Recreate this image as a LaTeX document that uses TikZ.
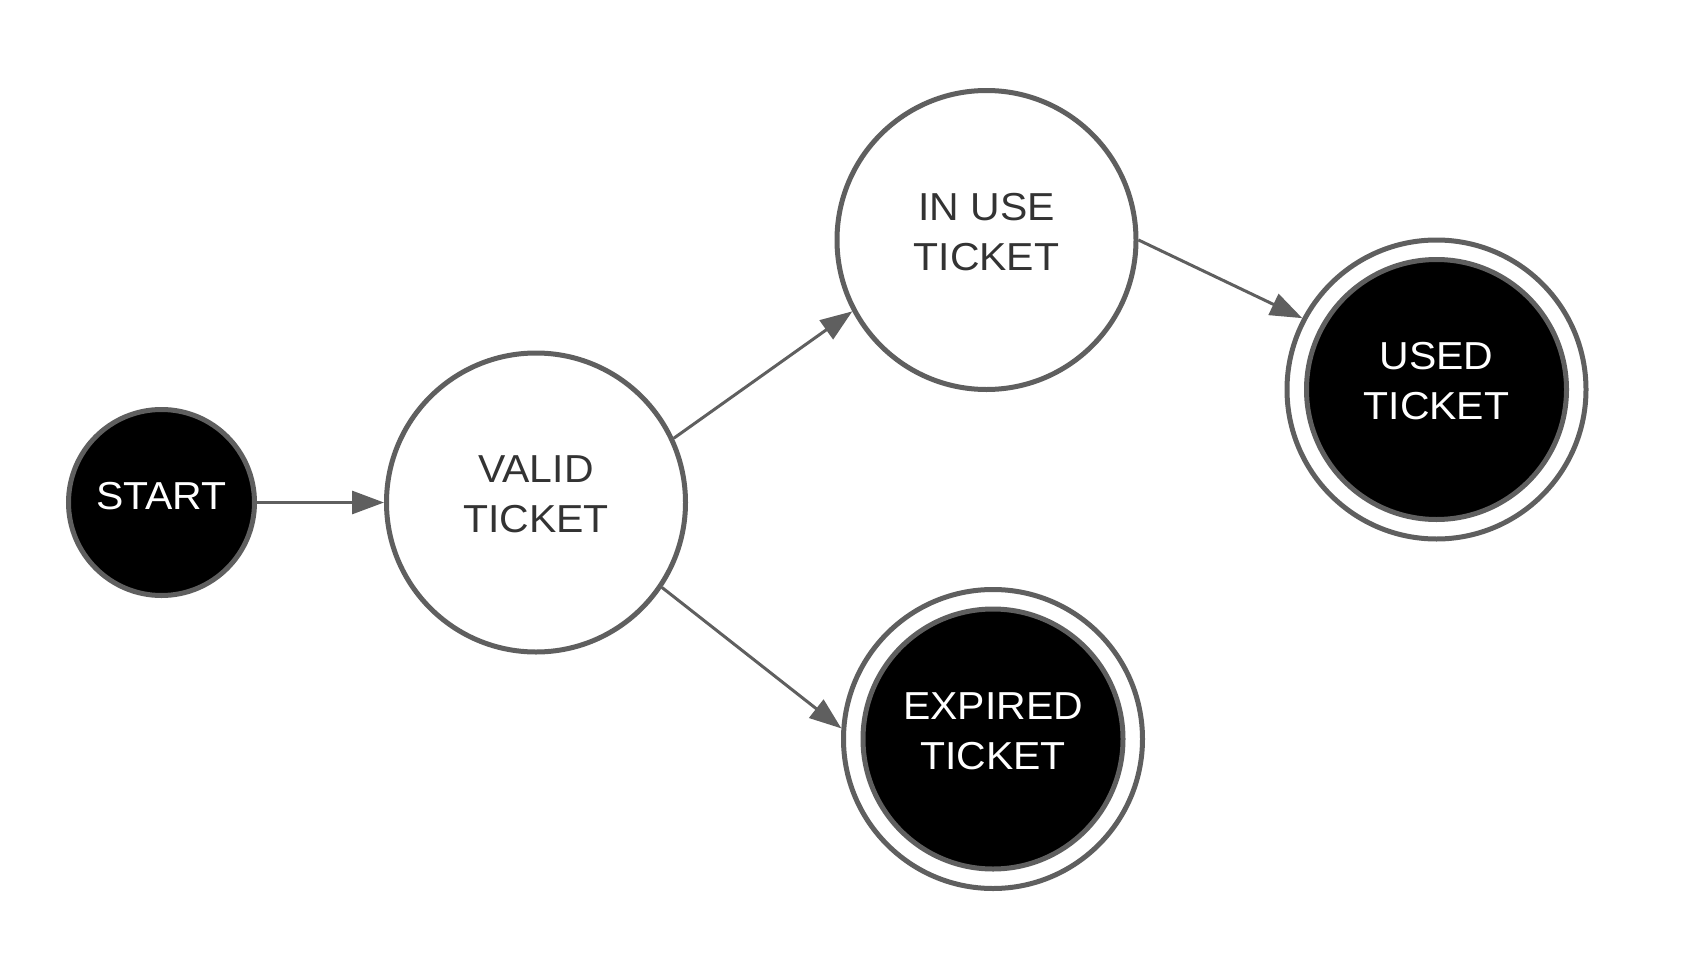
\documentclass[tikz,border=0pt]{standalone}
\usepackage{fontspec}
\setmainfont{Liberation Sans}[FakeStretch=1.05]
\usetikzlibrary{arrows.meta}
\definecolor{edgegray}{HTML}{5F5F5F}
\definecolor{txtgray}{HTML}{333333}
\tikzset{
  lbl/.style={font=\fontsize{39}{50}\selectfont, align=center, inner sep=0pt, yshift=8pt},
  darklbl/.style={lbl, text=txtgray},
  lightlbl/.style={lbl, text=white},
  plainstate/.style={circle, draw=edgegray, line width=5pt, fill=white, minimum size=299pt, inner sep=0pt},
  startstate/.style={circle, draw=edgegray, line width=5pt, fill=black, minimum size=186pt, inner sep=0pt, text=white, font=\fontsize{39}{50}\selectfont},
  outerring/.style={circle, draw=edgegray, line width=5pt, fill=white, minimum size=299pt, inner sep=0pt},
  innerfinal/.style={circle, draw=edgegray, line width=5pt, fill=black, minimum size=260pt, inner sep=0pt},
  conn/.style={draw=edgegray, line width=3pt, -{Triangle[length=32pt,width=23pt]}}
}
\begin{document}
\begin{tikzpicture}[x=1pt,y=-1pt]
\useasboundingbox (0,0) rectangle (1682,969);
\node[startstate, text depth=13pt] (start) at (161.5,502.5) {START};
\node[plainstate] (valid) at (536,502.5) {};
\node[darklbl] (validtxt) at (valid) {VALID\\TICKET};
\node[plainstate] (inuse) at (986.5,240) {};
\node[darklbl] (inusetxt) at (inuse) {IN USE\\TICKET};
\node[outerring] (usedo) at (1436.5,389.5) {};
\node[innerfinal] (used) at (usedo) {};
\node[lightlbl] (usedtxt) at (used) {USED\\TICKET};
\node[outerring] (expiredo) at (993,739) {};
\node[innerfinal] (expired) at (expiredo) {};
\node[lightlbl] (expiredtxt) at (expired) {EXPIRED\\TICKET};
\draw[conn] (start.east) -- (valid.west);
\draw[conn] (valid.25.9) -- (inuse.208.3);
\draw[conn] (valid.-34.5) -- (expiredo.176);
\draw[conn] (inuse.0.8) -- (usedo.152.4);
\end{tikzpicture}
\end{document}
